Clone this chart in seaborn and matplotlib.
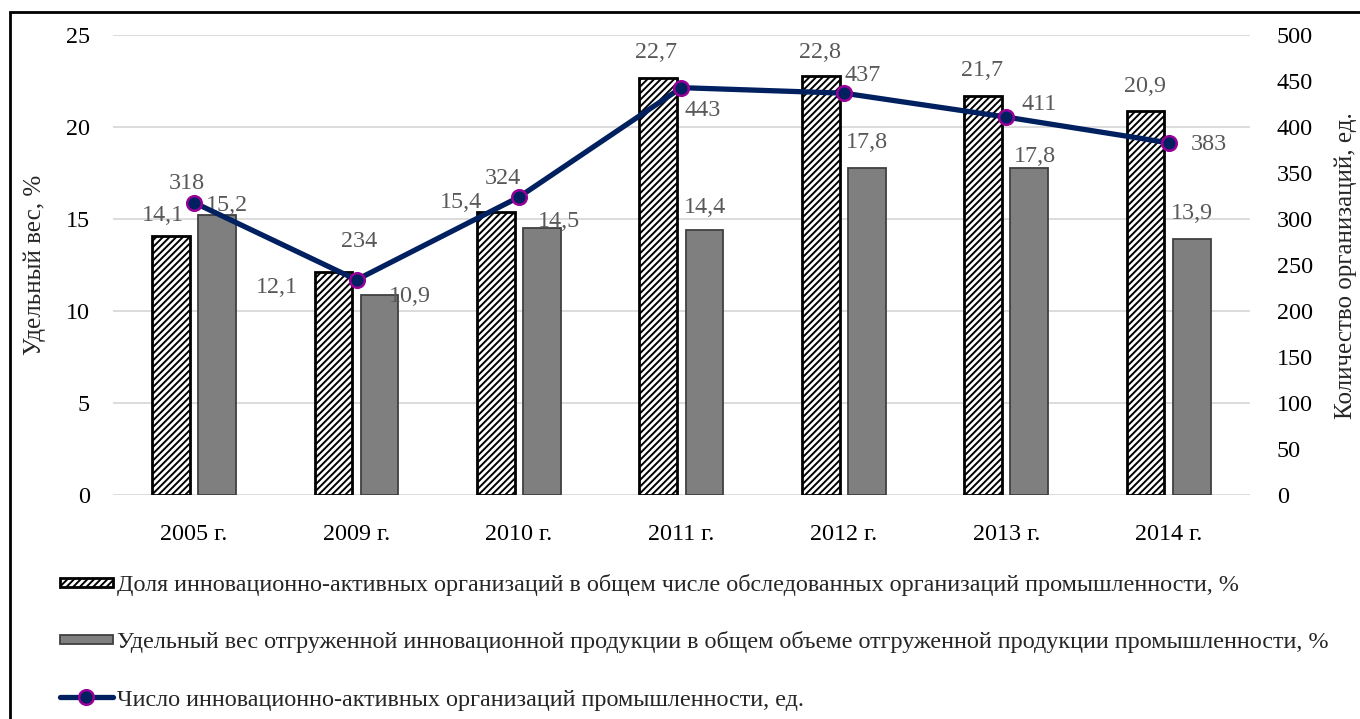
import numpy as np
import pandas as pd
import matplotlib
matplotlib.use("Agg")
import matplotlib.pyplot as plt
import matplotlib.patches as mpatches
from matplotlib.lines import Line2D
from matplotlib.legend_handler import HandlerPatch
import seaborn as sns

years = ["2005 г.", "2009 г.", "2010 г.", "2011 г.", "2012 г.", "2013 г.", "2014 г."]
share_active = [14.1, 12.1, 15.4, 22.7, 22.8, 21.7, 20.9]
share_products = [15.2, 10.9, 14.5, 14.4, 17.8, 17.8, 13.9]
num_orgs = [318, 234, 324, 443, 437, 411, 383]

s1 = "Доля инновационно-активных организаций в общем числе обследованных организаций промышленности, %"
s2 = "Удельный вес отгруженной инновационной продукции в общем объеме отгруженной продукции промышленности, %"
s3 = "Число инновационно-активных организаций промышленности, ед."

sns.set_theme(style="white")
plt.rcParams["font.family"] = ["Liberation Serif", "DejaVu Serif"]
plt.rcParams["hatch.linewidth"] = 1.4

FS = 17.4
LBL = "#595959"

df = pd.DataFrame({
    "year": years * 2,
    "value": share_active + share_products,
    "series": [s1] * len(years) + [s2] * len(years),
})

fig = plt.figure(figsize=(13.6, 7.19), dpi=100)
ax = fig.add_axes([0.083, 0.3115, 0.836, 0.6395])

sns.barplot(data=df, x="year", y="value", hue="series", ax=ax,
            width=0.568, gap=0.18, palette=["white", "#7f7f7f"],
            legend=False, errorbar=None, saturation=1)

n = len(years)
for i, p in enumerate(ax.patches[:2 * n]):
    if i < n:
        p.set_hatch("/////")
        p.set_edgecolor("black")
        p.set_linewidth(2.0)
        p.set_facecolor("white")
    else:
        p.set_edgecolor("#404040")
        p.set_linewidth(1.3)
        p.set_facecolor("#7f7f7f")

ax.set_ylim(0, 25)
ax.set_yticks(np.arange(0, 26, 5))
ax.set_xlim(-0.5, n - 0.5)
ax.yaxis.grid(True, color="#d9d9d9", linewidth=1.3)
ax.set_axisbelow(True)
for sp in ax.spines.values():
    sp.set_visible(False)
ax.tick_params(axis="both", length=0, labelsize=FS, colors="black")
ax.tick_params(axis="x", pad=21)
ax.tick_params(axis="y", pad=16.5)
ax.set_xlabel("")
ax.set_ylabel("Удельный вес, %", fontsize=FS + 0.6)
ax.yaxis.set_label_coords(-0.0686, 0.5)
ax.yaxis.label.set_va("center")

ax2 = ax.twinx()
sns.lineplot(x=np.arange(n), y=num_orgs, ax=ax2, color="#002060", linewidth=3.8,
             marker="o", markersize=10.5, markerfacecolor="#002060",
             markeredgecolor="#990099", markeredgewidth=1.8, zorder=5)
ax2.set_ylim(0, 500)
ax2.set_yticks(np.arange(0, 501, 50))
for sp in ax2.spines.values():
    sp.set_visible(False)
ax2.tick_params(axis="y", length=0, labelsize=FS, colors="black", pad=19.4)
ax2.set_ylabel("Количество организаций, ед.", fontsize=FS + 0.6)
ax2.yaxis.set_label_coords(1.0845, 0.5)
ax2.yaxis.label.set_va("center")
ax2.grid(False)

# data labels (offsets in pixels)
off1 = [(-8, 20), (-57, -15), (-35, 9), (-2, 25), (-1, 23), (-1, 25), (-1, 24)]
off2 = [(10, 10), (30, -2), (17, 7), (1, 23), (0, 25), (6, 11), (0, 26)]
off3 = [(-7, 19), (3, 38), (-16, 19), (21, -23), (19, 18), (33, 13), (40, -2)]
for i in range(n):
    ax.annotate(f"{share_active[i]:.1f}".replace(".", ","), (i - 0.142, share_active[i]),
                xytext=off1[i], textcoords="offset pixels", ha="center", va="center",
                fontsize=FS, color=LBL, zorder=6)
    ax.annotate(f"{share_products[i]:.1f}".replace(".", ","), (i + 0.142, share_products[i]),
                xytext=off2[i], textcoords="offset pixels", ha="center", va="center",
                fontsize=FS, color=LBL, zorder=6)
    ax2.annotate(str(num_orgs[i]), (i, num_orgs[i]),
                 xytext=off3[i], textcoords="offset pixels", ha="center", va="center",
                 fontsize=FS, color=LBL, zorder=6)


class FlatPatch(HandlerPatch):
    def create_artists(self, legend, orig_handle, xdescent, ydescent, width, height, fontsize, trans):
        h = height * 0.55
        r = mpatches.Rectangle((-xdescent, -ydescent + (height - h) / 2), width, h,
                               facecolor=orig_handle.get_facecolor(),
                               edgecolor=orig_handle.get_edgecolor(),
                               hatch=orig_handle.get_hatch(),
                               linewidth=orig_handle.get_linewidth(), transform=trans)
        return [r]


h1 = mpatches.Rectangle((0, 0), 1, 1, facecolor="white", edgecolor="black", hatch="/////", linewidth=2)
h2 = mpatches.Rectangle((0, 0), 1, 1, facecolor="#7f7f7f", edgecolor="#404040", linewidth=1.3)
h3 = Line2D([0], [0], color="#002060", linewidth=3.8, marker="o", markersize=10.5,
            markerfacecolor="#002060", markeredgecolor="#990099", markeredgewidth=1.8)
leg = fig.legend([h1, h2, h3], [s1, s2, s3], loc="upper left", bbox_to_anchor=(0.044, 0.202),
                 frameon=False, fontsize=FS, handlelength=2.2, handletextpad=0.17,
                 labelspacing=1.47, handler_map={mpatches.Rectangle: FlatPatch()},
                 borderaxespad=0, borderpad=0)

# outer frame
fig.add_artist(mpatches.Rectangle((10 / 1360, -0.01), 1.02, 1 - 12 / 719 + 0.01,
                                  transform=fig.transFigure, fill=False,
                                  edgecolor="black", linewidth=2))

fig.savefig("out.png", dpi=100)
